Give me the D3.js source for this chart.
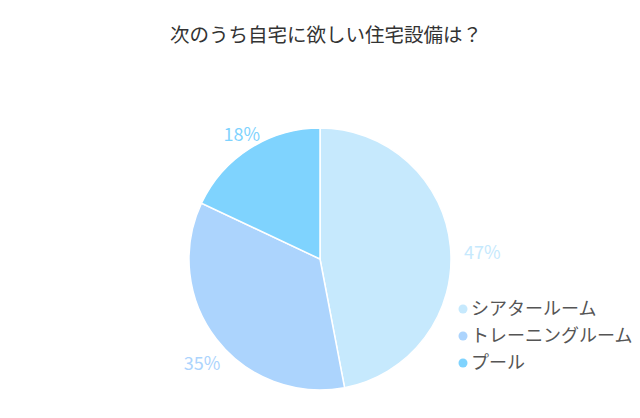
<!DOCTYPE html>
<html>
<head>
<meta charset="utf-8">
<script src="https://cdn.jsdelivr.net/npm/d3@7"></script>
<style>
body { margin: 0; background: #fff; }
text { font-family: "Noto Sans CJK JP", "Noto Sans", sans-serif; }
</style>
</head>
<body>
<div id="chart"></div>
<script>
var categories = ['シアタールーム', 'トレーニングルーム', 'プール'];
var values = [47, 35, 18];
var colors = ['#c6e9fd', '#acd4fd', '#7fd3fe'];

var w = 640, h = 418;
var cx = 320, cy = 259, r = 131;

var svg = d3.select('#chart').append('svg')
	.attr('width', w)
	.attr('height', h);

svg.append('text')
	.attr('x', w / 2 + 6)
	.attr('y', 42)
	.attr('text-anchor', 'middle')
	.attr('font-size', 19.5)
	.attr('fill', '#333')
	.text('次のうち自宅に欲しい住宅設備は？');

var pie = d3.pie().sort(null).value(function(d) { return d; });
var arcs = pie(values);
var arc = d3.arc().innerRadius(0).outerRadius(r);
var labelArc = d3.arc().innerRadius(157).outerRadius(157);

var g = svg.append('g').attr('transform', 'translate(' + cx + ',' + cy + ')');

g.selectAll('.slice')
	.data(arcs)
	.enter()
	.append('path')
	.attr('class', 'slice')
	.attr('d', arc)
	.attr('fill', function(d, i) { return colors[i]; })
	.attr('stroke', '#fff')
	.attr('stroke-width', 1.5);

// labels sit a little right and below the centroid
g.selectAll('.lbl')
	.data(arcs)
	.enter()
	.append('text')
	.attr('class', 'lbl')
	.attr('transform', function(d) {
		var c = labelArc.centroid(d);
		return 'translate(' + (c[0] + 6) + ',' + (c[1] + 8) + ')';
	})
	.attr('text-anchor', 'middle')
	.attr('dy', '0.35em')
	.attr('font-size', 18)
	.attr('fill', function(d, i) { return colors[i]; })
	.text(function(d) { return d.data + '%'; });

// legend
var legend = svg.append('g').attr('transform', 'translate(463,309)');
var items = legend.selectAll('.item')
	.data(categories)
	.enter()
	.append('g')
	.attr('transform', function(d, i) { return 'translate(0,' + i * 27 + ')'; });

items.append('circle')
	.attr('r', 4.5)
	.attr('fill', function(d, i) { return colors[i]; });

items.append('text')
	.attr('x', 8)
	.attr('dy', '0.35em')
	.attr('font-size', 18)
	.attr('fill', '#555')
	.text(function(d) { return d; });
</script>
</body>
</html>
